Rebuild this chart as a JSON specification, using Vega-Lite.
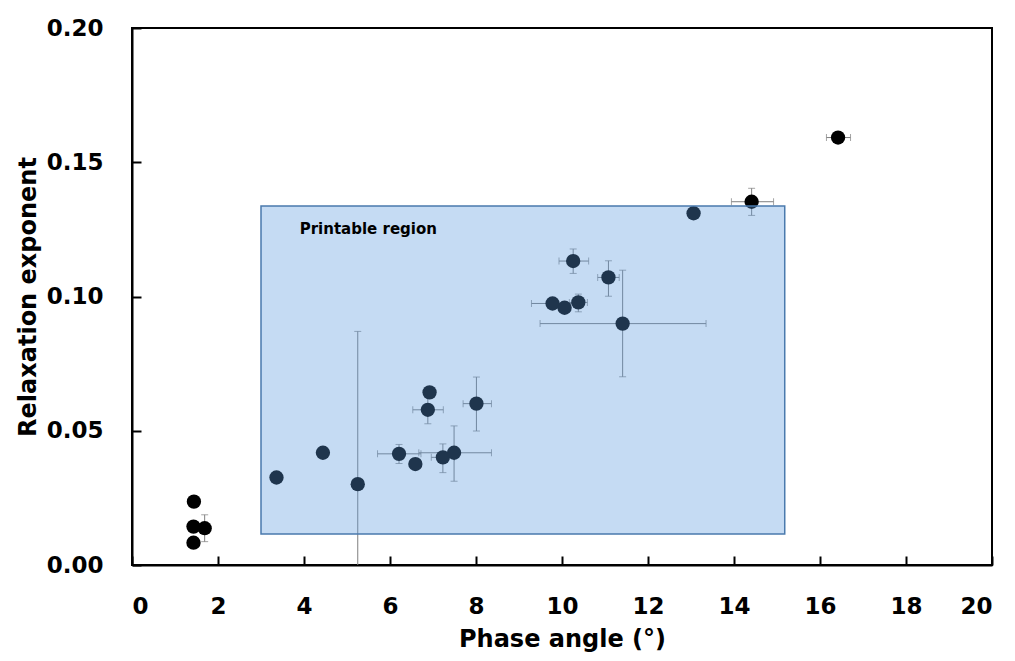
{
  "$schema": "https://vega.github.io/schema/vega-lite/v6.json",
  "width": 860,
  "height": 537,
  "autosize": {"type": "none"},
  "padding": {"left": 132, "top": 28, "right": 23, "bottom": 96},
  "background": "white",
  "config": {
    "view": {"stroke": "black", "strokeWidth": 2},
    "font": "DejaVu Sans"
  },
  "datasets": {
    "pts": [
      {"x": 1.44, "y": 0.0236, "xlo": null, "xhi": null, "ylo": null, "yhi": null},
      {"x": 1.43, "y": 0.0143, "xlo": null, "xhi": null, "ylo": null, "yhi": null},
      {"x": 1.69, "y": 0.0137, "xlo": null, "xhi": null, "ylo": 0.0087, "yhi": 0.0187},
      {"x": 1.43, "y": 0.0083, "xlo": null, "xhi": null, "ylo": null, "yhi": null},
      {"x": 3.36, "y": 0.0326, "xlo": null, "xhi": null, "ylo": null, "yhi": null},
      {"x": 4.44, "y": 0.0418, "xlo": null, "xhi": null, "ylo": null, "yhi": null},
      {"x": 5.25, "y": 0.0301, "xlo": null, "xhi": null, "ylo": -0.027, "yhi": 0.087},
      {"x": 6.21, "y": 0.0414, "xlo": 5.71, "xhi": 6.72, "ylo": 0.0378, "yhi": 0.0449},
      {"x": 6.59, "y": 0.0376, "xlo": null, "xhi": null, "ylo": null, "yhi": null},
      {"x": 6.92, "y": 0.0643, "xlo": null, "xhi": null, "ylo": null, "yhi": null},
      {"x": 6.88, "y": 0.0578, "xlo": 6.53, "xhi": 7.24, "ylo": 0.0526, "yhi": 0.063},
      {"x": 7.23, "y": 0.0401, "xlo": 6.96, "xhi": 7.5, "ylo": 0.0344, "yhi": 0.0451},
      {"x": 7.49, "y": 0.0418, "xlo": 6.67, "xhi": 8.36, "ylo": 0.0312, "yhi": 0.0518},
      {"x": 8.01, "y": 0.0601, "xlo": 7.7, "xhi": 8.36, "ylo": 0.0499, "yhi": 0.07},
      {"x": 9.78, "y": 0.0974, "xlo": 9.29, "xhi": 10.27, "ylo": null, "yhi": null},
      {"x": 10.06, "y": 0.0958, "xlo": null, "xhi": null, "ylo": null, "yhi": null},
      {"x": 10.38, "y": 0.0978, "xlo": 10.17, "xhi": 10.59, "ylo": 0.0943, "yhi": 0.1009},
      {"x": 10.26, "y": 0.1132, "xlo": 9.93, "xhi": 10.62, "ylo": 0.1086, "yhi": 0.1177},
      {"x": 11.08, "y": 0.1071, "xlo": 10.83, "xhi": 11.33, "ylo": 0.1001, "yhi": 0.1133},
      {"x": 11.41, "y": 0.0899, "xlo": 9.49, "xhi": 13.35, "ylo": 0.0701, "yhi": 0.1098},
      {"x": 13.06, "y": 0.131, "xlo": null, "xhi": null, "ylo": null, "yhi": null},
      {"x": 14.41, "y": 0.1353, "xlo": 13.94, "xhi": 14.92, "ylo": 0.1302, "yhi": 0.1403},
      {"x": 16.42, "y": 0.1592, "xlo": 16.15, "xhi": 16.71, "ylo": 0.1575, "yhi": 0.1609}
    ],
    "region": [
      {"x": 3.0, "x2": 15.18, "y": 0.0115, "y2": 0.1337, "label": "Printable region", "lx": 3.9, "ly": 0.1252}
    ]
  },
  "layer": [
    {
      "data": {"name": "pts"},
      "transform": [{"filter": "datum.ylo != null"}],
      "mark": {"type": "rule", "color": "#7f7f7f", "strokeWidth": 1, "clip": true},
      "encoding": {
        "x": {"field": "x", "type": "quantitative", "scale": {"domain": [0, 20], "nice": false},
          "axis": {"values": [0, 2, 4, 6, 8, 10, 12, 14, 16, 18, 20], "grid": false, "tickSize": -9, "tickWidth": 2, "tickColor": "black",
            "domainColor": "black", "domainWidth": 2, "labelFont": "DejaVu Sans", "labelFontWeight": "bold", "labelFontSize": 23,
            "labelColor": "black", "labelPadding": 39, "title": "Phase angle (°)", "titleFont": "DejaVu Sans", "titleFontWeight": "bold",
            "titleFontSize": 24, "titleColor": "black", "titlePadding": 9}},
        "y": {"field": "ylo", "type": "quantitative", "scale": {"domain": [0, 0.2], "nice": false},
          "axis": {"values": [0, 0.05, 0.1, 0.15, 0.2], "format": ".2f", "grid": false, "tickSize": -9, "tickWidth": 2, "tickColor": "black",
            "domainColor": "black", "domainWidth": 2, "labelFont": "DejaVu Sans", "labelFontWeight": "bold", "labelFontSize": 23,
            "labelColor": "black", "labelPadding": 38, "title": "Relaxation exponent", "titleFont": "DejaVu Sans", "titleFontWeight": "bold",
            "titleFontSize": 24, "titleColor": "black", "titlePadding": 6}},
        "y2": {"field": "yhi"}
      }
    },
    {
      "data": {"name": "pts"},
      "transform": [{"filter": "datum.xlo != null"}],
      "mark": {"type": "rule", "color": "#7f7f7f", "strokeWidth": 1, "clip": true},
      "encoding": {
        "x": {"field": "xlo", "type": "quantitative"},
        "x2": {"field": "xhi"},
        "y": {"field": "y", "type": "quantitative"}
      }
    },
    {
      "data": {"name": "pts"},
      "transform": [{"fold": ["ylo", "yhi"], "as": ["k", "yv"]}, {"filter": "datum.yv != null"}],
      "mark": {"type": "tick", "orient": "horizontal", "color": "#7f7f7f", "size": 7, "thickness": 1, "clip": true},
      "encoding": {
        "x": {"field": "x", "type": "quantitative"},
        "y": {"field": "yv", "type": "quantitative"}
      }
    },
    {
      "data": {"name": "pts"},
      "transform": [{"fold": ["xlo", "xhi"], "as": ["k", "xv"]}, {"filter": "datum.xv != null"}],
      "mark": {"type": "tick", "orient": "vertical", "color": "#7f7f7f", "size": 7, "thickness": 1, "clip": true},
      "encoding": {
        "x": {"field": "xv", "type": "quantitative"},
        "y": {"field": "y", "type": "quantitative"}
      }
    },
    {
      "data": {"name": "pts"},
      "mark": {"type": "circle", "color": "black", "opacity": 1, "size": 205},
      "encoding": {
        "x": {"field": "x", "type": "quantitative"},
        "y": {"field": "y", "type": "quantitative"}
      }
    },
    {
      "data": {"name": "region"},
      "mark": {"type": "rect", "fill": "#5a98dc", "fillOpacity": 0.35, "stroke": "#4a7aad", "strokeWidth": 1.5},
      "encoding": {
        "x": {"field": "x", "type": "quantitative"},
        "x2": {"field": "x2"},
        "y": {"field": "y", "type": "quantitative"},
        "y2": {"field": "y2"}
      }
    },
    {
      "data": {"name": "region"},
      "mark": {"type": "text", "align": "left", "baseline": "middle", "font": "DejaVu Sans", "fontWeight": "bold", "fontSize": 15, "color": "black"},
      "encoding": {
        "x": {"field": "lx", "type": "quantitative"},
        "y": {"field": "ly", "type": "quantitative"},
        "text": {"field": "label"}
      }
    }
  ]
}
